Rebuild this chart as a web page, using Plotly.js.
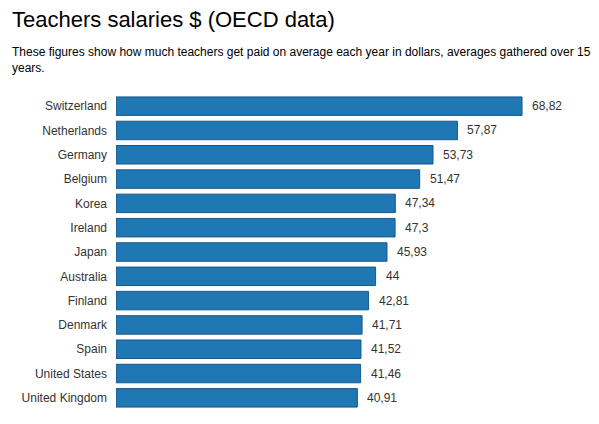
<!DOCTYPE html>
<html>
<head>
<meta charset="utf-8">
<script src="https://cdn.plot.ly/plotly-3.0.1.min.js"></script>
<style>
  html, body { margin: 0; padding: 0; background: #fff; }
  #chart { width: 599px; height: 424px; }
</style>
</head>
<body>
<div id="chart"></div>
<script>
const countries = ['Switzerland', 'Netherlands', 'Germany', 'Belgium', 'Korea', 'Ireland', 'Japan',
                   'Australia', 'Finland', 'Denmark', 'Spain', 'United States', 'United Kingdom'];
const salaries = [68.82, 57.87, 53.73, 51.47, 47.34, 47.3, 45.93, 44, 42.81, 41.71, 41.52, 41.46, 40.91];

const W = 599, H = 424;
const M = {l: 116, r: 11, t: 94, b: 14};
const plotW = W - M.l - M.r, plotH = H - M.t - M.b;
// page pixel -> paper coords, for the titles
const px = x => (x - M.l) / plotW;
const py = y => 1 - (y - M.t) / plotH;

const font = 'Liberation Sans, Arial, sans-serif';

const valueLabels = countries.map((c, i) => ({
    x: salaries[i], y: c, xref: 'x', yref: 'y',
    text: String(salaries[i]).replace('.', ','),
    showarrow: false, xanchor: 'left', yanchor: 'middle', xshift: 8,
    font: {family: font, size: 12, color: '#333'}
}));

Plotly.newPlot('chart', [{
    type: 'bar', orientation: 'h',
    x: salaries, y: countries,
    marker: {color: '#1f77b4', line: {color: '#17588c', width: 1}},
    hoverinfo: 'none'
}], {
    width: W, height: H,
    margin: M,
    paper_bgcolor: '#fff', plot_bgcolor: '#fff',
    showlegend: false,
    bargap: 0.24,
    font: {family: font, size: 12, color: '#333'},
    xaxis: {range: [0, 80], visible: false, fixedrange: true},
    yaxis: {
        autorange: 'reversed', showgrid: false, zeroline: false, showline: false,
        ticks: '', ticklabelstandoff: 8, tickfont: {family: font, size: 12, color: '#333'},
        fixedrange: true
    },
    annotations: [
        {
            xref: 'paper', yref: 'paper', x: px(10), y: py(19),
            xanchor: 'left', yanchor: 'middle', showarrow: false,
            text: 'Teachers salaries $ (OECD data)',
            font: {family: font, size: 22, color: '#000'}
        },
        {
            xref: 'paper', yref: 'paper', x: px(10), y: py(60),
            xanchor: 'left', yanchor: 'middle', align: 'left', showarrow: false,
            text: 'These figures show how much teachers get paid on average each year in dollars, averages gathered over 15<br>years.',
            font: {family: font, size: 12, color: '#000'}
        }
    ].concat(valueLabels)
}, {staticPlot: true});
</script>
</body>
</html>
